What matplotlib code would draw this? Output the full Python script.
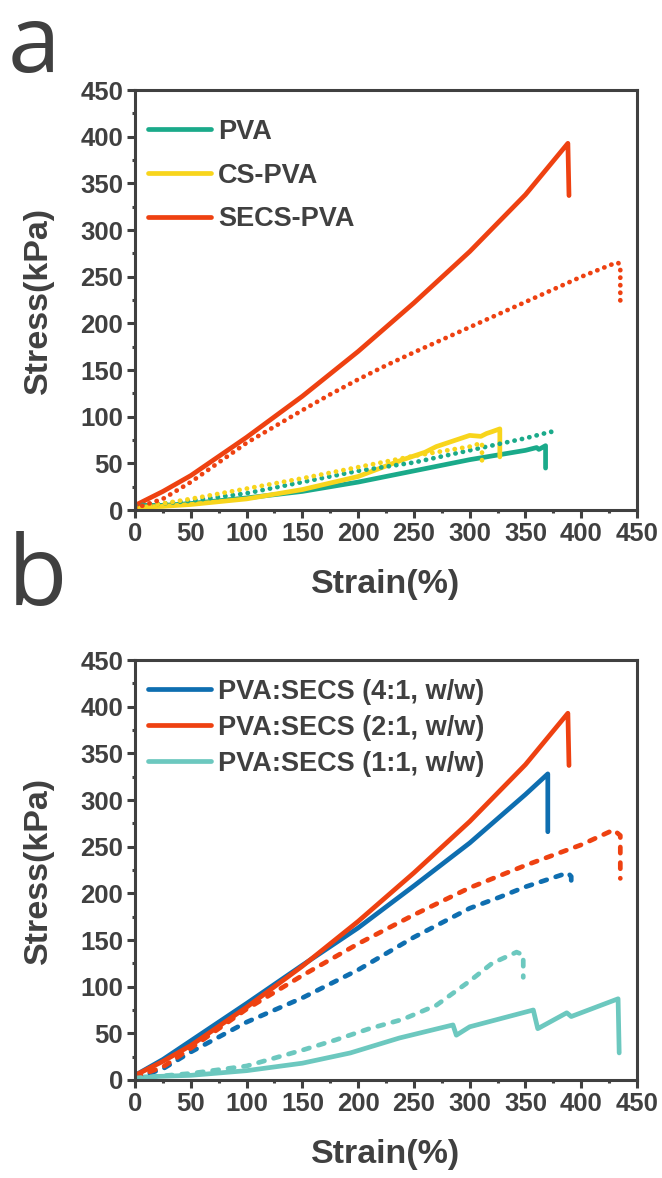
import numpy as np
import matplotlib
matplotlib.use('Agg')
import matplotlib.pyplot as plt
from matplotlib.ticker import MultipleLocator

# ---- panel a data ----
pva_x = [0, 25, 50, 100, 150, 200, 250, 300, 350, 360, 362, 368, 368]
pva_y = [5, 5, 7, 13, 20, 30, 42, 54, 64, 67, 65, 69, 45]
pva_dot_x = [0, 25, 50, 100, 150, 200, 250, 300, 350, 373, 376]
pva_dot_y = [5, 7, 10, 18, 30, 42, 51, 64, 77, 84, 77]

cs_x = [0, 25, 50, 100, 150, 200, 240, 260, 270, 280, 290, 300, 310, 315, 320, 327, 327]
cs_y = [3, 4, 6, 12, 22, 36, 54, 62, 68, 72, 76, 80, 79, 82, 84, 87, 57]
cs_dot_x = [0, 25, 50, 100, 150, 200, 250, 300, 311, 311]
cs_dot_y = [3, 7, 12, 23, 34, 46, 58, 68, 72, 50]

secs_x = [0, 25, 50, 100, 150, 200, 250, 300, 350, 388, 389]
secs_y = [5, 20, 37, 78, 122, 170, 222, 277, 338, 393, 337]
secs_dot_x = [0, 25, 50, 100, 150, 175, 200, 225, 250, 300, 350, 400, 429, 433, 435, 435]
secs_dot_y = [2, 12, 30, 72, 107, 124, 140, 155, 169, 196, 223, 250, 264, 265, 262, 222]

# ---- panel b data ----
r41_x = [0, 25, 50, 100, 150, 200, 250, 300, 350, 370, 370]
r41_y = [5, 22, 42, 82, 123, 163, 208, 254, 306, 328, 266]
r41_dash_x = [0, 25, 50, 100, 150, 200, 250, 300, 327, 350, 388, 391, 391]
r41_dash_y = [2, 12, 30, 62, 88, 118, 153, 184, 196, 207, 222, 218, 205]

r21_dash_x = [0, 25, 50, 100, 150, 200, 250, 300, 350, 400, 429, 435, 435]
r21_dash_y = [3, 14, 34, 76, 112, 146, 177, 206, 230, 252, 268, 262, 216]

r11_x = [0, 50, 100, 150, 193, 237, 285, 288, 300, 357, 361, 387, 391, 433, 434]
r11_y = [3, 5, 10, 18, 29, 45, 59, 48, 57, 75, 55, 72, 68, 87, 29]
r11_dash_x = [0, 50, 100, 150, 180, 210, 240, 270, 300, 320, 342, 348, 348]
r11_dash_y = [2, 7, 15, 32, 43, 55, 65, 80, 106, 125, 137, 134, 110]

ticks = [0, 50, 100, 150, 200, 250, 300, 350, 400, 450]

c_pva = '#1aaa8a'
c_cs = '#f8d51c'
c_red = '#ee4111'
c_blue = '#0e6eb0'
c_lt = '#6cc8bf'
gray = '#404040'

plt.rcParams['font.family'] = ['Liberation Sans', 'DejaVu Sans']
plt.rcParams['font.weight'] = 'bold'

fig = plt.figure(figsize=(6.62, 11.78), dpi=100)
ax1 = fig.add_axes([0.204, 0.567, 0.7583, 0.3565])
ax2 = fig.add_axes([0.204, 0.0832, 0.7583, 0.3565])

lw = 3.4
dot = (0, (0.05, 1.55))
dash = (0, (1.3, 2.0))

ax1.plot(pva_x, pva_y, color=c_pva, lw=lw, label='PVA', solid_capstyle='round')
ax1.plot(cs_x, cs_y, color=c_cs, lw=lw, label='CS-PVA', solid_capstyle='round')
ax1.plot(secs_x, secs_y, color=c_red, lw=lw, label='SECS-PVA', solid_capstyle='round')
ax1.plot(pva_dot_x, pva_dot_y, color=c_pva, lw=lw, ls=dot, dash_capstyle='round')
ax1.plot(cs_dot_x, cs_dot_y, color=c_cs, lw=lw, ls=dot, dash_capstyle='round')
ax1.plot(secs_dot_x, secs_dot_y, color=c_red, lw=lw, ls=dot, dash_capstyle='round')

ax2.plot(r41_x, r41_y, color=c_blue, lw=lw, label='PVA:SECS (4:1, w/w)', solid_capstyle='round')
ax2.plot(secs_x, secs_y, color=c_red, lw=lw, label='PVA:SECS (2:1, w/w)', solid_capstyle='round')
ax2.plot(r11_x, r11_y, color=c_lt, lw=lw, label='PVA:SECS (1:1, w/w)', solid_capstyle='round')
ax2.plot(r41_dash_x, r41_dash_y, color=c_blue, lw=lw, ls=dash, dash_capstyle='round')
ax2.plot(r21_dash_x, r21_dash_y, color=c_red, lw=lw, ls=dash, dash_capstyle='round')
ax2.plot(r11_dash_x, r11_dash_y, color=c_lt, lw=lw, ls=dash, dash_capstyle='round')

for ax, top, sp in [(ax1, 0.932, 0.66), (ax2, 0.956, 0.37)]:
    ax.set_xlim(0, 450)
    ax.set_ylim(0, 450)
    ax.set_xticks(ticks)
    ax.set_yticks(ticks)
    ax.xaxis.set_minor_locator(MultipleLocator(25))
    ax.yaxis.set_minor_locator(MultipleLocator(25))
    for s in ax.spines.values():
        s.set_linewidth(2.2)
        s.set_color(gray)
    ax.tick_params(which='major', direction='out', length=5.5, width=2.2,
                   color=gray, labelcolor=gray, labelsize=18.5, pad=3)
    ax.tick_params(which='minor', direction='out', length=2.5, width=2.2, color=gray)
    ax.tick_params(top=False, right=False, which='both')
    for lab in ax.get_xticklabels() + ax.get_yticklabels():
        lab.set_fontweight('bold')
    ax.set_xlabel('Strain(%)', fontsize=24.5, fontweight='bold', color=gray, labelpad=17)
    ax.set_ylabel('Stress(kPa)', fontsize=24.5, fontweight='bold', color=gray, labelpad=19)
    leg = ax.legend(loc='upper left', bbox_to_anchor=(0.025, top), frameon=False,
                    handlelength=2.35, handletextpad=0.26, labelspacing=sp,
                    borderpad=0, borderaxespad=0,
                    prop={'size': 19.5, 'weight': 'bold'})
    for t in leg.get_texts():
        t.set_color(gray)
    for h in leg.get_lines():
        h.set_solid_capstyle('round')

fig.text(0.012, 1 - 72 / 1178, 'a', fontsize=68, color=gray, family='Open Sans',
         fontweight='normal', va='baseline', ha='left')
fig.text(0.012, 1 - 605 / 1178, 'b', fontsize=70, color=gray, family='Open Sans',
         fontweight='normal', va='baseline', ha='left')

fig.savefig('out.png', dpi=100)
